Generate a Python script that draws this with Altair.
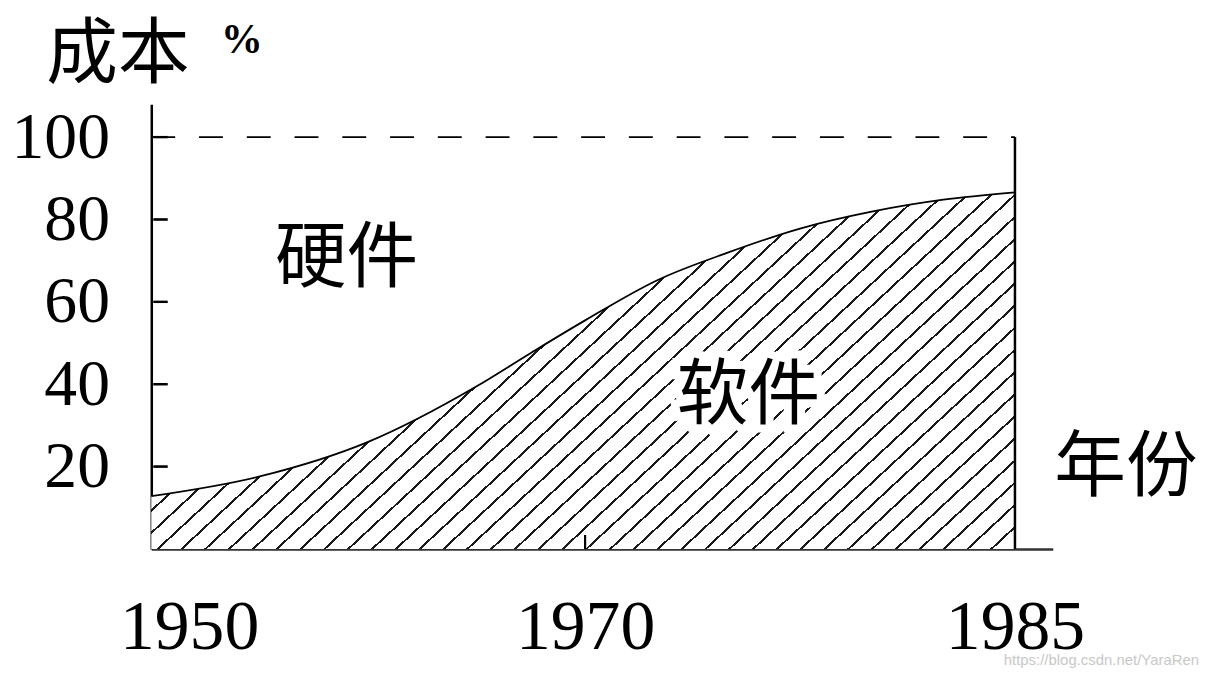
import math
import altair as alt
import pandas as pd

# ---------------- data ----------------
years = [1950, 1955, 1960, 1965, 1967.5, 1970, 1972.5, 1975, 1977.5, 1980, 1982.5, 1985]
software_share = [12.8, 17.6, 26.0, 39.5, 47.6, 55.5, 65.2, 72.0, 77.8, 81.9, 84.8, 86.6]
y_tick_values = [20, 40, 60, 80, 100]
x_tick_values = [1950, 1970, 1985]
region_labels = ["硬件", "软件"]

# ---------------- layout / style constants ----------------
PLOT_W, PLOT_H = 906, 447
X_DOMAIN = [1950, 1970, 1985, 1986.32]     # piecewise (the drawing is not to scale)
X_RANGE = [0, 436, 868, PLOT_W]
Y_MAX = 108
CJK = "Noto Sans CJK SC"
SERIF = "Liberation Serif"
LINE_W = 2.5
TICK_START = 0.1          # inward y ticks start just right of the axis line
TICK_END = 0.75           # ~16 px
TICK_LEN_VALUE = 3.4      # inward tick length on the x axis (~14 px)

# hatch fill built as a striped linear gradient (objectBoundingBox units)
W = X_RANGE[2] - X_RANGE[0]
H = max(software_share) / Y_MAX * PLOT_H
slope = 0.93
gx0, gy0 = slope * W / H, 1.0
k = (gx0 + gy0) / (gx0 ** 2 + gy0 ** 2)
gx, gy = gx0 * k, gy0 * k
grad_mag = math.hypot(gx / W, gy / H) / (gx ** 2 + gy ** 2)
period = 16.3 * grad_mag
lw = 2.0 * grad_mag
stops = [alt.GradientStop(offset=0, color="white")]
t = 0.006
while t + lw < 1:
    stops += [
        alt.GradientStop(offset=t, color="white"),
        alt.GradientStop(offset=t, color="#1a1a1a"),
        alt.GradientStop(offset=t + lw, color="#1a1a1a"),
        alt.GradientStop(offset=t + lw, color="white"),
    ]
    t += period
stops.append(alt.GradientStop(offset=1, color="white"))
hatch = alt.LinearGradient(gradient="linear", stops=stops, x1=0, y1=0, x2=gx, y2=gy)

df = pd.DataFrame({"year": years, "share": software_share})
one_row = pd.DataFrame({"k": [0]})

x_scale = alt.Scale(domain=X_DOMAIN, range=X_RANGE, zero=False, nice=False)
y_scale = alt.Scale(domain=[0, Y_MAX], zero=True, nice=False)

x_axis = alt.Axis(
    values=x_tick_values, format="d", ticks=False, tickSize=0, grid=False,
    labelFont=SERIF, labelFontSize=70, labelColor="black",
    labelBaseline="alphabetic", labelPadding=100, labelFlush=False,
    labelOffset={"condition": {"test": "datum.value == 1950", "value": 38}, "value": 0},
    domainColor="#333333", domainWidth=LINE_W,
    title="年份", titleFont=CJK, titleFontSize=72, titleFontWeight="normal",
    titleColor="black", titleX=979, titleY=-82, titleAlign="center",
    titleBaseline="middle", titleAngle=0,
)
y_axis = alt.Axis(
    values=y_tick_values, ticks=False, tickSize=0, grid=False,
    labelFont=SERIF, labelFontSize=66, labelColor="black", labelPadding=42,
    domainColor="black", domainWidth=LINE_W,
    title="成本", titleFont=CJK, titleFontSize=72, titleFontWeight="normal",
    titleColor="black", titleX=-34, titleY=-50, titleAlign="center",
    titleBaseline="middle", titleAngle=0,
)

base = alt.Chart(df)

area = base.mark_area(fill=hatch, interpolate="monotone", opacity=1, strokeWidth=0).encode(
    x=alt.X("year:Q", scale=x_scale, axis=x_axis),
    y=alt.Y("share:Q", scale=y_scale, axis=y_axis),
    y2=alt.datum(0),
)
curve = base.mark_line(color="black", strokeWidth=1.8, interpolate="monotone").encode(
    x="year:Q", y="share:Q"
)

top_dash = alt.Chart(one_row).mark_rule(color="black", strokeWidth=2, strokeDash=[24, 24]).encode(
    x=alt.datum(x_tick_values[0]), x2=alt.datum(x_tick_values[-1]), y=alt.datum(y_tick_values[-1])
)
right_edge = alt.Chart(one_row).mark_rule(color="black", strokeWidth=LINE_W).encode(
    x=alt.datum(x_tick_values[-1]), y=alt.datum(0), y2=alt.datum(y_tick_values[-1])
)
tick_layers = []
for v in y_tick_values:
    tick_layers.append(
        alt.Chart(one_row).mark_rule(color="black", strokeWidth=2.4).encode(
            x=alt.datum(x_tick_values[0] + TICK_START),
            x2=alt.datum(x_tick_values[0] + TICK_END),
            y=alt.datum(v),
        )
    )
    tick_layers.append(
        alt.Chart(one_row).mark_rect(color="black", opacity=1).encode(
            x=alt.datum(x_tick_values[0] + TICK_START),
            x2=alt.datum(x_tick_values[0] + TICK_END),
            y=alt.datum(v - 0.22),
            y2=alt.datum(v + 0.22),
        )
    )
x_mid_tick = alt.Chart(one_row).mark_rule(color="black", strokeWidth=2.2).encode(
    x=alt.datum(x_tick_values[1]), y=alt.datum(0), y2=alt.datum(TICK_LEN_VALUE)
)

hw_label = alt.Chart(one_row).mark_text(font=CJK, fontSize=72, color="black").encode(
    x=alt.datum(1959.0), y=alt.datum(70.5), text=alt.value(region_labels[0])
)
sw_halo = alt.Chart(one_row).mark_text(
    font=CJK, fontSize=72, color="white", stroke="white", strokeWidth=16
).encode(x=alt.datum(1975.7), y=alt.datum(37.0), text=alt.value(region_labels[1]))
sw_label = alt.Chart(one_row).mark_text(font=CJK, fontSize=72, color="black").encode(
    x=alt.datum(1975.7), y=alt.datum(37.0), text=alt.value(region_labels[1])
)
percent = alt.Chart(one_row).mark_text(
    font=SERIF, fontSize=42, fontWeight="bold", color="black"
).encode(x=alt.value(91), y=alt.value(-64), text=alt.value("%"))
watermark = alt.Chart(one_row).mark_text(
    font="Liberation Sans", fontSize=15, color="#c8c8c8", align="right"
).encode(x=alt.value(1053), y=alt.value(559), text=alt.value("https://blog.csdn.net/YaraRen"))

chart = alt.layer(
    area, curve, top_dash, right_edge, *tick_layers, x_mid_tick,
    hw_label, sw_halo, sw_label, percent, watermark,
).properties(
    width=PLOT_W, height=PLOT_H,
    padding={"left": 144, "top": 95, "right": 155, "bottom": 120},
    autosize=alt.AutoSizeParams(type="none"),
    background="white",
).configure_view(stroke=None)

chart.save("out.html", embed_options={"renderer": "svg", "actions": False})
